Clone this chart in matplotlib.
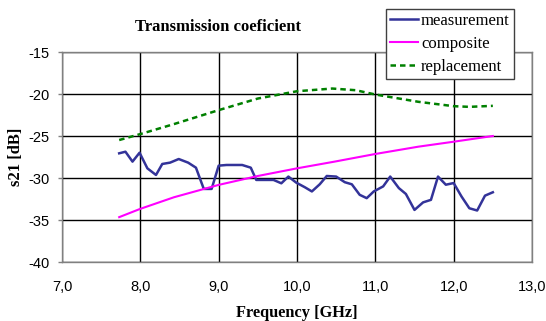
import matplotlib
matplotlib.use("Agg")
import matplotlib.pyplot as plt

# measurement
meas_f = [7.73, 7.81, 7.9, 7.99, 8.09, 8.2, 8.28, 8.38, 8.49, 8.61, 8.71, 8.81, 8.91,
          9.0, 9.1, 9.3, 9.41, 9.48, 9.61, 9.7, 9.8, 9.89, 9.99, 10.1, 10.19, 10.29,
          10.38, 10.5, 10.61, 10.7, 10.8, 10.89, 10.98, 11.1, 11.19, 11.3, 11.39, 11.5,
          11.61, 11.71, 11.8, 11.9, 12.0, 12.1, 12.2, 12.3, 12.4, 12.5]
meas_db = [-27.06, -26.87, -28.05, -26.99, -28.85, -29.64, -28.33, -28.17, -27.74, -28.17,
           -28.77, -31.3, -31.3, -28.53, -28.45, -28.45, -28.77, -30.23, -30.23, -30.23,
           -30.63, -29.83, -30.55, -31.1, -31.6, -30.75, -29.76, -29.83, -30.5, -30.75,
           -32.0, -32.4, -31.6, -31.0, -29.83, -31.2, -31.9, -33.8, -32.9, -32.6, -29.83,
           -30.8, -30.6, -32.2, -33.6, -33.87, -32.1, -31.7]

# composite
comp_f = [7.73, 8.0, 8.43, 9.0, 9.5, 10.0, 10.48, 11.0, 11.55, 12.0, 12.5]
comp_db = [-34.66, -33.67, -32.29, -30.82, -29.76, -28.85, -28.05, -27.14, -26.27, -25.68, -25.0]

# replacement
repl_f = [7.73, 8.0, 8.43, 9.0, 9.5, 10.0, 10.45, 10.75, 11.0, 11.55, 12.0, 12.2, 12.5]
repl_db = [-25.48, -24.77, -23.58, -21.92, -20.54, -19.67, -19.35, -19.55, -20.06, -20.93,
           -21.45, -21.53, -21.41]

xticks = [7, 8, 9, 10, 11, 12, 13]
xtick_labels = ["7,0", "8,0", "9,0", "10,0", "11,0", "12,0", "13,0"]
yticks = [-40, -35, -30, -25, -20, -15]
ytick_labels = ["-40", "-35", "-30", "-25", "-20", "-15"]

fig = plt.figure(figsize=(5.46, 3.21), dpi=100)
ax = fig.add_axes([62/546, 1 - 262/321, 470/546, 210/321])

ax.plot(meas_f, meas_db, color="#333399", lw=1.8, label="measurement", zorder=3)
ax.plot(comp_f, comp_db, color="#ff00ff", lw=1.5, label="composite", zorder=3)
ax.plot(repl_f, repl_db, color="#008000", lw=1.8, ls=(0, (2.2, 1.6)), label="replacement", zorder=3)

ax.set_xlim(7, 13)
ax.set_ylim(-40, -15)
ax.set_xticks(xticks)
ax.set_xticklabels(xtick_labels, family="Liberation Sans", fontsize=10.5)
ax.set_yticks(yticks)
ax.set_yticklabels(ytick_labels, family="Liberation Sans", fontsize=10.5)
ax.tick_params(axis="x", length=0, pad=13)
ax.tick_params(axis="y", length=3, width=1, color="#808080", pad=6)
ax.grid(True, color="black", lw=1)
ax.set_axisbelow(True)
for s in ax.spines.values():
    s.set_color("#808080")
    s.set_linewidth(1)

ax.set_xlabel("Frequency [GHz]", family="Liberation Serif", fontweight="bold", fontsize=11.8, labelpad=8)
ax.set_ylabel("s21 [dB]", family="Liberation Serif", fontweight="bold", fontsize=12, labelpad=3)

fig.text(218/546, 1 - 27/321, "Transmission coeficient", family="Liberation Serif",
         fontweight="bold", fontsize=12, ha="center", va="center")

leg = ax.legend(loc="upper right", bbox_to_anchor=(514/546, 1 - 9/321),
                bbox_transform=fig.transFigure, borderaxespad=0, frameon=True,
                fancybox=False, edgecolor="#404040", framealpha=1,
                prop={"family": "Liberation Serif", "size": 12},
                handlelength=1.65, handletextpad=0.2, labelspacing=0.4,
                borderpad=0.25)
leg.get_frame().set_linewidth(1)
leg.set_zorder(5)

fig.savefig("out.png", dpi=100)
